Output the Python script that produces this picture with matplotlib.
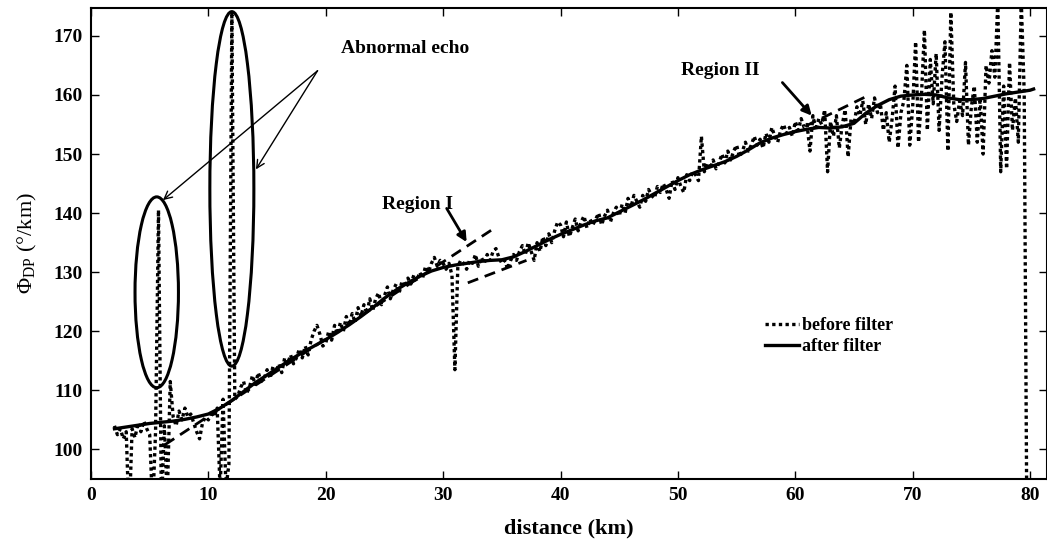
import matplotlib
matplotlib.use("Agg")
import matplotlib.pyplot as plt
from matplotlib.patches import Ellipse
import numpy as np

plt.rcParams['font.family'] = ['Liberation Serif', 'DejaVu Serif']
plt.rcParams['mathtext.fontset'] = 'custom'
plt.rcParams['mathtext.rm'] = 'Liberation Serif'
plt.rcParams['mathtext.it'] = 'Liberation Serif:italic'
plt.rcParams['mathtext.bf'] = 'Liberation Serif:bold'

# ---- data: raw PhiDP (before filter), 0.25 km gates starting at 2.0 km ----
raw_start_km = 2.0
raw_step_km = 0.25
before_filter = [
    104.0, 102.5, 103.5, 101.8,   # 2
    103.0, 88.0, 103.5, 102.0,    # 3
    104.5, 103.0, 104.8, 103.5,   # 4
    102.5, 90.0, 103.0, 140.5,    # 5
    90.0, 104.0, 92.0, 111.5,     # 6
    105.5, 104.0, 106.5, 105.0,   # 7
    107.0, 105.5, 106.0, 104.5,   # 8
    103.0, 101.8, 104.5, 105.5,   # 9
    105.0, 106.5, 105.5, 107.0,   # 10
    93.0, 108.5, 93.5, 97.5,      # 11
    174.0, 108.5, 109.0, 110.5,   # 12
    111.5, 109.5, 110.5, 112.5,   # 13
    111.0, 113.0, 111.5, 112.0,   # 14
    113.5, 112.0, 114.0, 113.0,   # 15
    114.5, 113.0, 115.5, 114.5,   # 16
    116.0, 114.5, 115.5, 117.0,   # 17
    115.5, 117.5, 116.0, 118.5,   # 18
    120.0, 121.0, 119.5, 117.5,   # 19
    118.0, 120.0, 118.5, 121.0,   # 20
    119.5, 121.5, 120.0, 122.5,   # 21
    121.0, 123.0, 121.5, 124.0,   # 22
    122.5, 124.5, 123.0, 125.5,   # 23
    123.5, 125.5, 126.5, 124.5,   # 24
    126.0, 127.5, 125.5, 127.0,   # 25
    128.0, 126.5, 128.5, 127.5,   # 26
    129.0, 128.0, 129.5, 128.5,   # 27
    130.0, 129.0, 131.0, 130.0,   # 28
    131.5, 132.5, 131.0, 132.0,   # 29
    131.5, 130.5, 131.5, 129.5,   # 30
    113.5, 131.0, 132.0, 131.5,   # 31
    130.5, 132.0, 131.5, 133.0,   # 32
    131.0, 132.5, 131.5, 133.0,   # 33
    132.0, 133.5, 134.0, 132.5,   # 34
    131.5, 132.0, 130.5, 132.0,   # 35
    133.0, 132.0, 133.5, 134.5,   # 36
    133.0, 135.0, 133.5, 132.0,   # 37
    135.0, 133.5, 136.0, 134.5,   # 38
    136.5, 135.0, 137.0, 138.5,   # 39
    138.0, 136.0, 138.5, 136.0,   # 40
    137.5, 139.0, 137.0, 138.5,   # 41
    139.5, 137.5, 139.0, 138.0,   # 42
    139.0, 140.0, 138.0, 139.5,   # 43
    140.5, 138.5, 140.0, 141.0,   # 44
    139.5, 141.5, 140.0, 142.5,   # 45
    141.0, 143.0, 142.0, 141.0,   # 46
    143.0, 142.0, 144.0, 143.0,   # 47
    142.5, 144.5, 143.5, 145.0,   # 48
    144.0, 142.5, 145.5, 144.0,   # 49
    146.0, 144.5, 143.5, 146.5,   # 50
    145.5, 147.0, 146.5, 145.5,   # 51
    153.0, 147.0, 148.5, 147.5,   # 52
    149.0, 147.5, 148.5, 150.0,   # 53
    148.5, 150.5, 149.0, 150.5,   # 54
    151.5, 149.5, 150.5, 152.0,   # 55
    150.5, 151.5, 153.0, 151.5,   # 56
    152.5, 151.0, 153.5, 152.0,   # 57
    154.5, 153.0, 152.0, 154.0,   # 58
    155.0, 153.5, 154.5, 153.0,   # 59
    155.5, 154.0, 156.0, 154.5,   # 60
    155.0, 150.5, 156.5, 154.0,   # 61
    156.0, 155.0, 157.5, 147.0,   # 62
    155.5, 153.0, 156.5, 151.0,   # 63
    155.0, 157.5, 149.5, 156.0,   # 64
    155.0, 158.0, 156.5, 159.0,   # 65
    155.0, 158.5, 156.0, 159.5,   # 66
    157.0, 158.5, 154.0, 157.0,   # 67
    152.0, 156.0, 161.5, 151.0,   # 68
    157.0, 159.0, 165.0, 151.5,   # 69
    158.0, 169.0, 152.0, 160.0,   # 70
    171.0, 154.0, 166.0, 158.5,   # 71
    167.0, 154.0, 163.0, 169.0,   # 72
    150.5, 174.0, 158.5, 155.5,   # 73
    159.0, 156.5, 165.5, 151.5,   # 74
    158.0, 161.5, 152.0, 159.5,   # 75
    150.0, 165.0, 162.0, 167.5,   # 76
    163.0, 176.0, 147.0, 161.5,   # 77
    147.5, 165.5, 154.0, 159.5,   # 78
    152.0, 176.0, 160.5, 80.0,    # 79
]

# ---- data: filtered PhiDP (after filter) ----
after_km = [2, 3, 4, 5, 6, 7, 8, 9, 10, 11, 12, 13, 14, 15, 16, 17, 18, 19, 20,
            21, 22, 23, 24, 25, 26, 27, 28, 29, 30, 31, 32, 33, 34, 35, 36, 37,
            38, 39, 40, 41, 42, 43, 44, 45, 46, 47, 48, 49, 50, 51, 52, 53, 54,
            55, 56, 57, 58, 59, 60, 61, 62, 63, 64, 65, 66, 67, 68, 69, 70, 71,
            72, 73, 74, 75, 76, 77, 78, 79, 80, 80.3]
after_filter = [103.5, 103.8, 104.1, 104.4, 104.6, 104.8, 105.1, 105.5, 106.0,
                107.0, 108.3, 109.8, 111.3, 112.6, 113.9, 115.2, 116.4, 117.5,
                118.6, 119.8, 121.1, 122.5, 124.0, 125.6, 127.0, 128.2, 129.3,
                130.2, 130.8, 131.2, 131.5, 131.8, 132.0, 132.1, 132.6, 133.5,
                134.5, 135.5, 136.4, 137.2, 138.0, 138.7, 139.2, 140.2, 141.2,
                142.2, 143.3, 144.4, 145.5, 146.5, 147.3, 148.0, 148.7, 149.6,
                150.7, 151.9, 152.7, 153.3, 153.8, 154.2, 154.5, 154.4, 154.6,
                155.2, 156.9, 158.2, 159.2, 159.8, 160.0, 160.1, 160.0, 159.5,
                159.2, 159.2, 159.4, 159.8, 160.2, 160.5, 160.8, 161.0]

# ---- fitted segments (dashed) ----
fit1_km = [6.3, 34.4]
fit1_val = [100.8, 137.5]
fit2_km = [32.1, 37.1]
fit2_val = [128.2, 132.0]
fit3_km = [59.5, 66.0]
fit3_val = [153.4, 159.7]

xticks = [0, 10, 20, 30, 40, 50, 60, 70, 80]
yticks = [100, 110, 120, 130, 140, 150, 160, 170]

raw_km = raw_start_km + raw_step_km * np.arange(len(before_filter))

fig = plt.figure(figsize=(10.47, 5.45), dpi=100)
ax = fig.add_axes([91 / 1047, 66 / 545, 955.5 / 1047, 471.5 / 545])

ax.plot(raw_km, before_filter, color='black', lw=2.4, linestyle=(0, (1, 1.0)),
        label='before filter')
ax.plot(after_km, after_filter, color='black', lw=2.4, label='after filter')
for kx, vy in ((fit1_km, fit1_val), (fit2_km, fit2_val), (fit3_km, fit3_val)):
    ax.plot(kx, vy, color='black', lw=2.0, linestyle=(0, (4, 2.5)))

# ellipses around abnormal echoes
ax.add_patch(Ellipse((5.6, 126.6), 3.7, 32.3, fill=False, lw=2.2, ec='black'))
ax.add_patch(Ellipse((12.0, 144.1), 3.75, 60.0, fill=False, lw=2.2, ec='black'))

bold = dict(fontweight='bold', fontsize=14)
ax.text(26.8, 167.8, 'Abnormal echo', ha='center', va='center', **bold)
ax.annotate('', xy=(6.13, 142.2), xytext=(19.3, 164.1),
            arrowprops=dict(arrowstyle='->', lw=1.0, color='black', mutation_scale=14,
                            shrinkA=0, shrinkB=0))
ax.annotate('', xy=(14.05, 147.4), xytext=(19.3, 164.1),
            arrowprops=dict(arrowstyle='->', lw=1.0, color='black', mutation_scale=14,
                            shrinkA=0, shrinkB=0))

ax.text(27.8, 141.5, 'Region I', ha='center', va='center', **bold)
ax.annotate('', xy=(32.0, 135.1), xytext=(30.3, 140.8),
            arrowprops=dict(arrowstyle='-|>', lw=2.0, color='black', mutation_scale=14,
                            shrinkA=0, shrinkB=0))
ax.text(53.6, 164.1, 'Region II', ha='center', va='center', **bold)
ax.annotate('', xy=(61.4, 156.5), xytext=(58.9, 162.1),
            arrowprops=dict(arrowstyle='-|>', lw=2.0, color='black', mutation_scale=14,
                            shrinkA=0, shrinkB=0))

ax.set_xlim(0, 81.4)
ax.set_ylim(95, 174.8)
ax.set_xticks(xticks)
ax.set_yticks(yticks)
ax.set_xticklabels([str(t) for t in xticks], fontweight='bold', fontsize=14)
ax.set_yticklabels([str(t) for t in yticks], fontweight='bold', fontsize=14)
ax.tick_params(direction='in', length=6, width=1, top=True, right=True, pad=6)
for s in ax.spines.values():
    s.set_linewidth(1.5)

ax.set_xlabel('distance (km)', fontweight='bold', fontsize=16, labelpad=10)
ax.set_ylabel(r'$\Phi_{\mathrm{DP}}$ (°/km)', fontsize=16, labelpad=10)

leg = ax.legend(loc='upper left', bbox_to_anchor=(0.698, 0.358), frameon=False,
                prop=dict(weight='bold', size=13), handlelength=1.9,
                handletextpad=0.15, labelspacing=0.2, borderaxespad=0)

fig.savefig('out.png', dpi=100)
